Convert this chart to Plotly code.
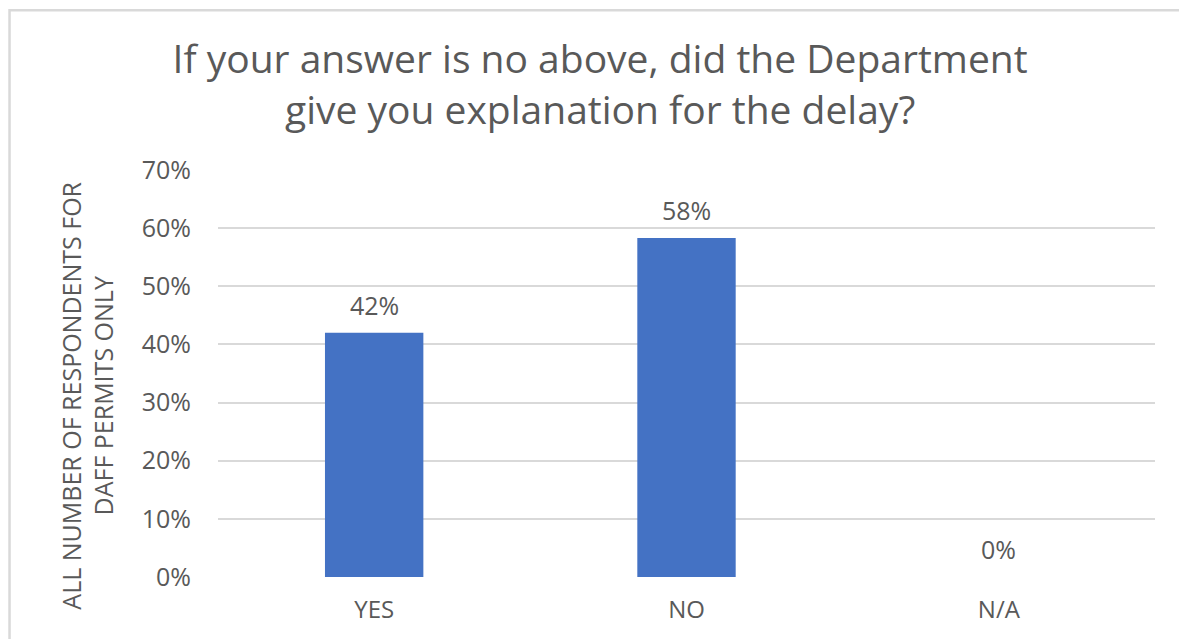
import plotly.graph_objects as go

categories = ["YES", "NO", "N/A"]
values = [0.42, 0.583, 0.0]
y_ticks = [0, 0.1, 0.2, 0.3, 0.4, 0.5, 0.6, 0.7]
title_text = "If your answer is no above, did the Department<br>give you explanation for the delay?"
y_title = "ALL NUMBER OF RESPONDENTS FOR<br>DAFF PERMITS ONLY"

FONT = "Open Sans"
GRAY = "#595959"

fig = go.Figure()
fig.add_trace(go.Bar(
    x=categories, y=values,
    marker=dict(color="#4472C4", line=dict(width=0)),
    width=0.315,
    hoverinfo="skip",
))

for c, v in zip(categories, values):
    fig.add_annotation(x=c, y=v, text=f"{v:.0%}", showarrow=False,
                       yshift=28, font=dict(family=FONT, size=25, color=GRAY))

fig.add_annotation(xref="paper", yref="paper", x=-0.139, y=0.445,
                   xanchor="center", yanchor="middle",
                   text=y_title, textangle=-90, showarrow=False,
                   font=dict(family=FONT, size=25, color=GRAY))

# chart border (top & left visible)
fig.add_shape(type="rect", xref="paper", yref="paper",
              x0=-0.2225, x1=1.2, y0=-0.5, y1=1.3925,
              line=dict(color="#D9D9D9", width=2.5), layer="below")

fig.update_layout(
    width=1179, height=639,
    margin=dict(l=218, r=24, t=170, b=62, autoexpand=False),
    paper_bgcolor="white", plot_bgcolor="white",
    showlegend=False,
    title=dict(text=title_text, x=0.509, xanchor="center", y=0.886, yanchor="middle",
               font=dict(family=FONT, size=39, color=GRAY)),
    xaxis=dict(showgrid=False, showline=False, zeroline=False, ticks="",
               tickfont=dict(family=FONT, size=24, color=GRAY),
               ticklabelstandoff=16),
    yaxis=dict(range=[0, 0.7], tickvals=y_ticks, tickformat=".0%",
               showgrid=True, gridcolor="#D9D9D9", gridwidth=2,
               zeroline=False, showline=False, ticks="",
               tickfont=dict(family=FONT, size=25, color=GRAY),
               ticklabelstandoff=26),
    bargap=0.685,
)

fig.write_html("out.html")
